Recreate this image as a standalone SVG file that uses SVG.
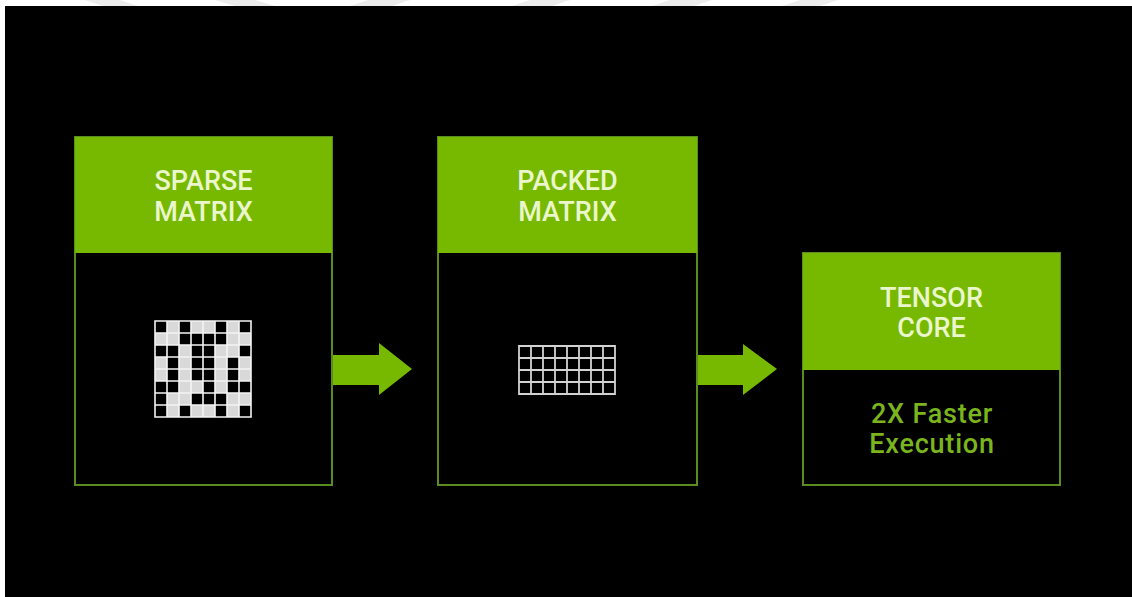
<svg xmlns="http://www.w3.org/2000/svg" width="1132" height="597" viewBox="0 0 1132 597">
  <style>
    .frame { fill: #000; stroke: #5a8c22; stroke-width: 2; }
    .head { fill: #76b900; }
    .title { font-family: Roboto, "Liberation Sans", Arial, sans-serif; font-weight: 500; font-size: 27px; fill: #ebf6cc; text-anchor: middle; }
    .body { font-family: Roboto, "Liberation Sans", Arial, sans-serif; font-weight: 500; font-size: 27px; fill: #7ab51d; text-anchor: middle; letter-spacing: 0.8px; }
    .arrow { fill: #76b900; }
    .lite { fill: #d9d9d9; }
    .dark { fill: #000; }
    .gline { stroke: #f4f4f4; stroke-width: 1.6; fill: none; }
    .pline { stroke: #d2d2d2; stroke-width: 1.8; fill: none; }
  </style>

  <!-- page background with faint stripes along the top margin -->
  <rect x="0" y="0" width="1132" height="597" fill="#ffffff"/>
  <g fill="#ececec">
    <polygon points="85,0 120,0 138,6 103,6"/>
    <polygon points="215,0 255,0 275,6 235,6"/>
    <polygon points="368,0 410,0 392,6 350,6"/>
    <polygon points="530,0 570,0 552,6 512,6"/>
    <polygon points="670,0 712,0 694,6 652,6"/>
    <polygon points="800,0 838,0 820,6 782,6"/>
  </g>
  <rect x="5" y="6" width="1127" height="591" fill="#000"/>

  <!-- connectors -->
  <g id="connectors">
    <polygon class="arrow" points="332,355 379,355 379,343 412,369 379,395 379,385 332,385"/>
    <polygon class="arrow" points="697,355 743,355 743,344 777,369 743,395 743,385 697,385"/>
  </g>

  <!-- sparse matrix -->
  <g id="sparse-matrix">
    <rect class="frame" x="75" y="137" width="257" height="348"/>
    <rect class="head" x="75" y="137" width="257" height="116"/>
    <text class="title" x="203.5" y="190">SPARSE</text>
    <text class="title" x="203.5" y="220.5">MATRIX</text>
    <g transform="translate(155,321)">
      <rect class="lite" x="0" y="0" width="96" height="96"/>
      <g class="dark">
        <!-- row 0 -->
        <rect x="0" y="0" width="12" height="12"/><rect x="24" y="0" width="12" height="12"/><rect x="60" y="0" width="12" height="12"/><rect x="84" y="0" width="12" height="12"/>
        <!-- row 1 -->
        <rect x="24" y="12" width="12" height="12"/><rect x="36" y="12" width="12" height="12"/><rect x="48" y="12" width="12" height="12"/><rect x="60" y="12" width="12" height="12"/>
        <!-- row 2 -->
        <rect x="0" y="24" width="12" height="12"/><rect x="12" y="24" width="12" height="12"/><rect x="36" y="24" width="12" height="12"/><rect x="48" y="24" width="12" height="12"/><rect x="84" y="24" width="12" height="12"/>
        <!-- row 3 -->
        <rect x="12" y="36" width="12" height="12"/><rect x="36" y="36" width="12" height="12"/><rect x="48" y="36" width="12" height="12"/><rect x="72" y="36" width="12" height="12"/>
        <!-- row 4 -->
        <rect x="12" y="48" width="12" height="12"/><rect x="36" y="48" width="12" height="12"/><rect x="48" y="48" width="12" height="12"/><rect x="72" y="48" width="12" height="12"/>
        <!-- row 5 -->
        <rect x="0" y="60" width="12" height="12"/><rect x="12" y="60" width="12" height="12"/><rect x="48" y="60" width="12" height="12"/><rect x="72" y="60" width="12" height="12"/><rect x="84" y="60" width="12" height="12"/>
        <!-- row 6 -->
        <rect x="0" y="72" width="12" height="12"/><rect x="36" y="72" width="12" height="12"/><rect x="48" y="72" width="12" height="12"/><rect x="60" y="72" width="12" height="12"/>
        <!-- row 7 -->
        <rect x="0" y="84" width="12" height="12"/><rect x="24" y="84" width="12" height="12"/><rect x="60" y="84" width="12" height="12"/><rect x="84" y="84" width="12" height="12"/>
      </g>
      <path class="gline" d="M0,0H96V96H0Z M12,0V96 M24,0V96 M36,0V96 M48,0V96 M60,0V96 M72,0V96 M84,0V96 M0,12H96 M0,24H96 M0,36H96 M0,48H96 M0,60H96 M0,72H96 M0,84H96"/>
    </g>
  </g>

  <!-- packed matrix -->
  <g id="packed-matrix">
    <rect class="frame" x="438" y="137" width="259" height="348"/>
    <rect class="head" x="438" y="137" width="259" height="116"/>
    <text class="title" x="567.5" y="190">PACKED</text>
    <text class="title" x="567.5" y="220.5">MATRIX</text>
    <path class="pline" transform="translate(519,346)" d="M0,0H96V48H0Z M12,0V48 M24,0V48 M36,0V48 M48,0V48 M60,0V48 M72,0V48 M84,0V48 M0,12H96 M0,24H96 M0,36H96"/>
  </g>

  <!-- tensor core -->
  <g id="tensor-core">
    <rect class="frame" x="803" y="253" width="257" height="232"/>
    <rect class="head" x="803" y="253" width="257" height="117"/>
    <text class="title" x="931.5" y="307">TENSOR</text>
    <text class="title" x="931.5" y="337">CORE</text>
    <text class="body" x="932" y="423">2X Faster</text>
    <text class="body" x="932" y="453">Execution</text>
  </g>
</svg>
